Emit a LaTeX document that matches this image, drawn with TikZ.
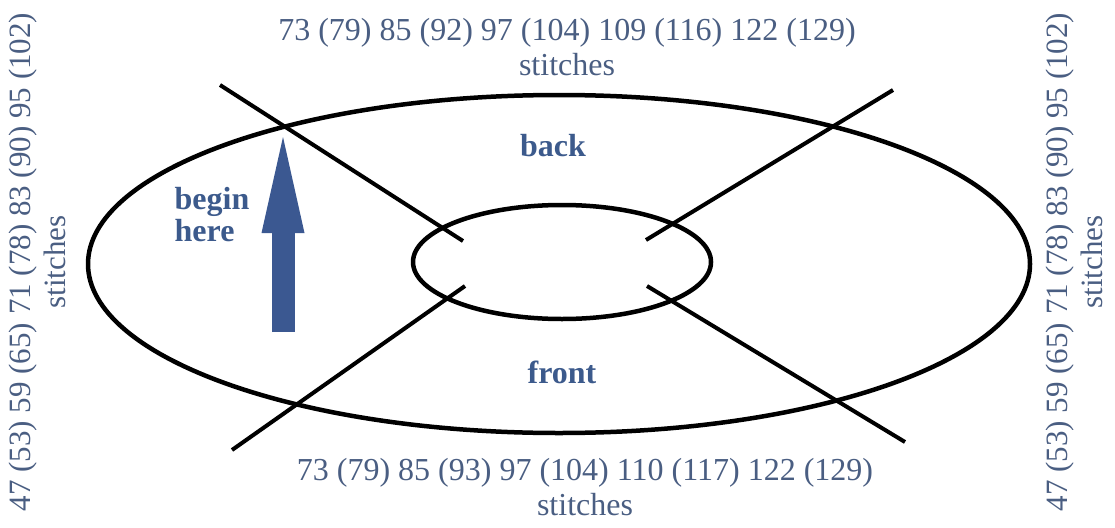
\documentclass[tikz,border=0pt]{standalone}
\usepackage{fontspec}
\setmainfont{Liberation Serif}
\usetikzlibrary{arrows.meta}

\definecolor{countblue}{HTML}{4A5E82}
\definecolor{labelblue}{HTML}{3C5A8C}
\definecolor{arrowblue}{HTML}{3B5891}

\begin{document}
\begin{tikzpicture}[x=1pt, y=-1pt,
	every node/.style={font=\fontsize{32}{35}\selectfont},
	count/.style={text=countblue, align=center, inner sep=0pt},
	side/.style={count, rotate=90, font=\fontsize{31}{35}\selectfont},
	part/.style={text=labelblue, font=\fontsize{32}{32}\selectfont\bfseries, align=left, inner sep=0pt},
	ring/.style={line width=4.5pt},
	cut/.style={line width=4pt}]
	\useasboundingbox (0,0) rectangle (1115,527);
	% the two rings
	\draw[ring] (559,264) ellipse [x radius=471pt, y radius=169pt];
	\draw[ring] (562,262) ellipse [x radius=149pt, y radius=57pt];
	% the four cuts
	\coordinate (ulA) at (220,85);  \coordinate (ulB) at (463,241);
	\coordinate (urA) at (893,90);  \coordinate (urB) at (646,240);
	\coordinate (llA) at (232,450); \coordinate (llB) at (465,286);
	\coordinate (lrA) at (905,442); \coordinate (lrB) at (647,286);
	\foreach \a/\b in {ulA/ulB, urA/urB, llA/llB, lrA/lrB}
		\draw[cut] (\a) -- (\b);
	% start arrow
	\coordinate (tail) at (283,332);
	\coordinate (tip) at (283,137);
	\draw[arrowblue, line width=23pt, -{Triangle[length=96pt, width=43pt, line width=0pt]}] (tail) -- (tip);
	% labels
	\node[part] (back) at (553,146) {back};
	\node[part] (front) at (562,372) {front};
	\node[part] (begin) at (212,215) {begin\\here};
	\node[count] (top) at (567,47) {73 (79) 85 (92) 97 (104) 109 (116) 122 (129)\\stitches};
	\node[count] (bottom) at (585,487) {73 (79) 85 (93) 97 (104) 110 (117) 122 (129)\\stitches};
	\node[side] (left) at (37,262) {47 (53) 59 (65) 71 (78) 83 (90) 95 (102)\\stitches};
	\node[side] (right) at (1074,262) {47 (53) 59 (65) 71 (78) 83 (90) 95 (102)\\stitches};
\end{tikzpicture}
\end{document}
